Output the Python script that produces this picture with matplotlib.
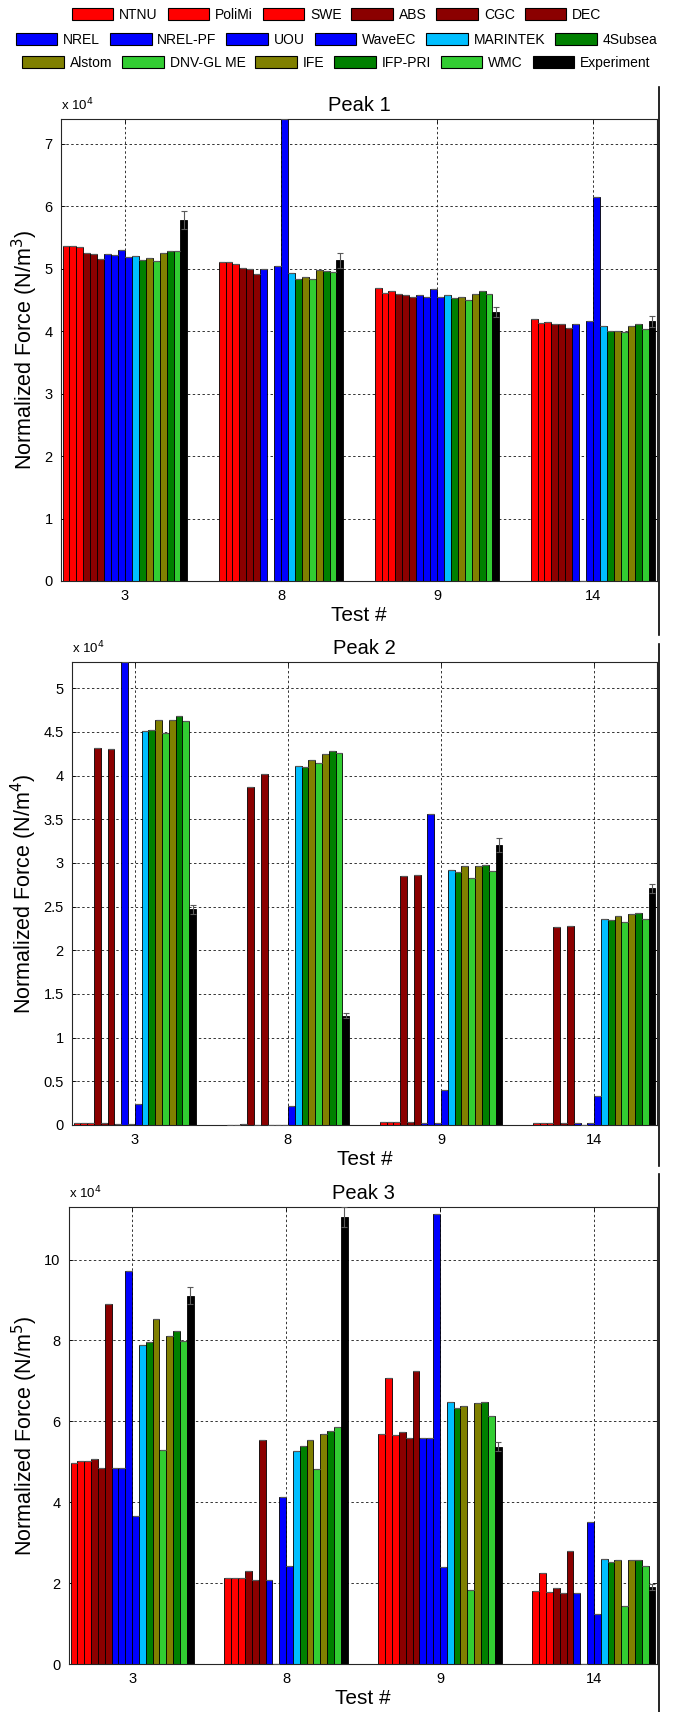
import numpy as np
import matplotlib
matplotlib.use('Agg')
import matplotlib.pyplot as plt
from matplotlib.patches import Patch
from matplotlib.lines import Line2D

plt.rcParams['font.family'] = ['Liberation Sans', 'DejaVu Sans']

# Participants / series (order of bars inside a group)
names = ['NTNU', 'PoliMi', 'SWE', 'ABS', 'CGC', 'DEC',
         'NREL', 'NREL-PF', 'UOU', 'WaveEC', 'MARINTEK', '4Subsea',
         'Alstom', 'DNV-GL ME', 'IFE', 'IFP-PRI', 'WMC', 'Experiment']
colors = ['#FF0000', '#FF0000', '#FF0000', '#8B0000', '#8B0000', '#8B0000',
          '#0000FF', '#0000FF', '#0000FF', '#0000FF', '#00BFFF', '#008000',
          '#808000', '#32CD32', '#808000', '#008000', '#32CD32', '#000000']

tests = ['3', '8', '9', '14']

# values in units of 1e4, one row per test (3, 8, 9, 14), one entry per series
peak1 = [
    [5.37, 5.37, 5.35, 5.25, 5.23, 5.16, 5.23, 5.22, 5.30, 5.19, 5.20, 5.14, 5.17, 5.13, 5.25, 5.28, 5.28, 5.78],
    [5.11, 5.11, 5.08, 5.01, 4.99, 4.92, 4.99, 0.00, 5.04, 7.40, 4.94, 4.84, 4.87, 4.84, 4.98, 4.97, 4.95, 5.14],
    [4.70, 4.62, 4.64, 4.60, 4.58, 4.55, 4.58, 4.55, 4.68, 4.55, 4.58, 4.54, 4.55, 4.50, 4.60, 4.64, 4.59, 4.31],
    [4.19, 4.13, 4.15, 4.11, 4.11, 4.05, 4.11, 0.00, 4.16, 6.15, 4.08, 4.01, 4.01, 3.99, 4.09, 4.12, 4.04, 4.16],
]
peak1_err = [0.14, 0.12, 0.08, 0.09]

peak2 = [
    [0.02, 0.02, 0.02, 4.31, 0.02, 4.30, 0.01, 5.30, 0.01, 0.24, 4.51, 4.52, 4.64, 4.49, 4.64, 4.68, 4.63, 2.47],
    [0.005, 0.005, 0.01, 3.87, 0.005, 4.02, 0.005, 0.005, 0.005, 0.22, 4.11, 4.10, 4.18, 4.14, 4.25, 4.28, 4.26, 1.25],
    [0.03, 0.03, 0.03, 2.85, 0.03, 2.86, 0.02, 3.56, 0.02, 0.40, 2.92, 2.90, 2.97, 2.83, 2.97, 2.98, 2.91, 3.21],
    [0.02, 0.02, 0.02, 2.27, 0.02, 2.28, 0.02, 0.00, 0.02, 0.33, 2.36, 2.35, 2.39, 2.32, 2.41, 2.43, 2.36, 2.71],
]
peak2_err = [0.05, 0.03, 0.08, 0.05]

peak3 = [
    [4.97, 5.01, 5.01, 5.08, 4.85, 8.90, 4.85, 4.85, 9.71, 3.65, 7.90, 7.97, 8.54, 5.29, 8.12, 8.23, 7.99, 9.11],
    [2.12, 2.13, 2.13, 2.30, 2.07, 5.53, 2.07, 0.00, 4.13, 2.42, 5.27, 5.39, 5.54, 4.83, 5.68, 5.77, 5.86, 11.05],
    [5.68, 7.07, 5.66, 5.73, 5.58, 7.24, 5.58, 5.58, 11.13, 2.40, 6.47, 6.32, 6.39, 1.84, 6.45, 6.48, 6.12, 5.37],
    [1.81, 2.24, 1.78, 1.87, 1.76, 2.80, 1.76, 0.00, 3.52, 1.24, 2.60, 2.51, 2.57, 1.44, 2.57, 2.57, 2.42, 1.90],
]
peak3_err = [0.20, 0.25, 0.11, 0.07]

W, H = 673, 1712
fig = plt.figure(figsize=(W / 100, H / 100), dpi=100)


def px_axes(left, right, top, bottom):
    return fig.add_axes([left / W, 1 - bottom / H, (right - left) / W, (bottom - top) / H])


def draw_panel(ax, data, err, title, ylim, yticks, unit_exp):
    data = np.array(data)
    n = data.shape[1]
    w = 0.8 / n
    xg = np.arange(1, len(tests) + 1)
    for k in range(n):
        xk = xg + (k - (n - 1) / 2) * w
        ax.bar(xk, data[:, k], width=w, color=colors[k], edgecolor='black',
               linewidth=0.6, zorder=2)
        yerr = err if names[k] == 'Experiment' else np.zeros(len(tests))
        ax.errorbar(xk, data[:, k], yerr=yerr, fmt='none', ecolor='0.35',
                    elinewidth=0.8, capsize=2.2, capthick=0.8, zorder=3)
    ax.set_xlim(0.59, 4.41)
    ax.set_ylim(*ylim)
    ax.set_yticks(yticks)
    ax.set_yticklabels([('%g' % t) for t in yticks])
    ax.set_xticks(xg)
    ax.set_xticklabels(tests)
    ax.tick_params(direction='in', length=3, labelsize=10.5, top=True, right=True,
                   pad=6, width=0.6)
    ax.grid(True, linestyle=(0, (2.5, 2.5)), color='0.2', linewidth=0.7)
    ax.set_axisbelow(True)
    for s in ax.spines.values():
        s.set_linewidth(0.8)
        s.set_color('0.15')
    ax.set_title(title, fontsize=14.5, pad=6)
    ax.set_xlabel('Test #', fontsize=15, labelpad=2)
    ax.set_ylabel('Normalized Force (N/m$^{%d}$)' % unit_exp, fontsize=15.5, labelpad=3)
    ax.text(0.0, 1.012, r'x 10$^{4}$', transform=ax.transAxes, fontsize=9.5,
            ha='left', va='bottom')


ax1 = px_axes(61, 657, 119, 581)
draw_panel(ax1, peak1, peak1_err, 'Peak 1', (0, 7.4), np.arange(0, 8, 1), 3)

ax2 = px_axes(72, 657, 662, 1125)
draw_panel(ax2, peak2, peak2_err, 'Peak 2', (0, 5.3), np.arange(0, 5.01, 0.5), 4)

ax3 = px_axes(69, 657, 1207, 1664)
draw_panel(ax3, peak3, peak3_err, 'Peak 3', (0, 11.3), np.arange(0, 11, 2), 5)

# legend: three centred rows of six entries
handles = [Patch(facecolor=c, edgecolor='black', linewidth=0.8) for c in colors]
for row, yc in enumerate([15, 40, 63]):
    sl = slice(row * 6, row * 6 + 6)
    fig.legend(handles[sl], names[sl], loc='center', bbox_to_anchor=(0.5, 1 - yc / H),
               ncol=6, frameon=False, fontsize=10, handlelength=3.0, handleheight=0.9,
               handletextpad=0.42, columnspacing=0.7, borderpad=0, borderaxespad=0)

# right-hand panel border lines of the original composite
for y0, y1 in [(87, 635), (644, 1166), (1174, 1712)]:
    fig.add_artist(Line2D([658.5 / W, 658.5 / W], [1 - y0 / H, 1 - y1 / H],
                          color='black', linewidth=1.2, transform=fig.transFigure))

fig.savefig('out.png', dpi=100)
